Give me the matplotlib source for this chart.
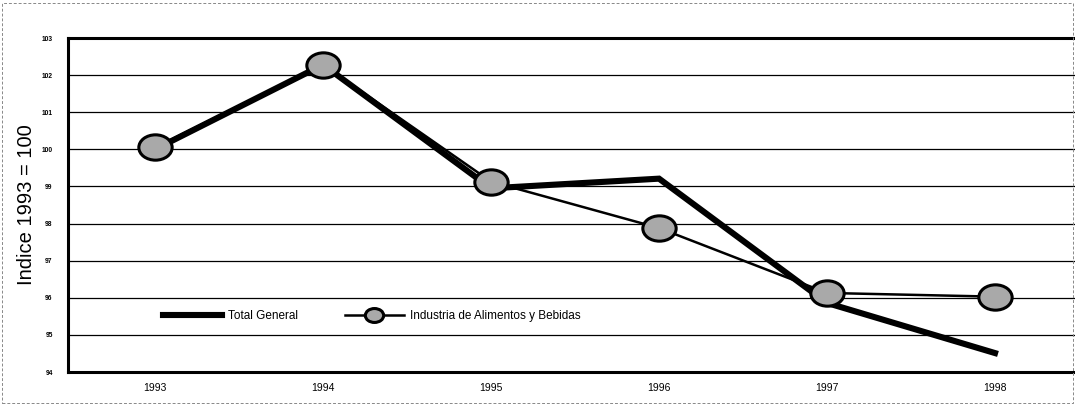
import matplotlib
matplotlib.use("Agg")
import matplotlib.pyplot as plt
from matplotlib.path import Path
from matplotlib.patches import Rectangle
import numpy as np

years = ["1993", "1994", "1995", "1996", "1997", "1998"]
total_general = [100.0, 102.28, 98.95, 99.21, 95.86, 94.51]
industria = [100.05, 102.28, 99.13, 97.88, 96.13, 96.03]
y_ticks = [94, 95, 96, 97, 98, 99, 100, 101, 102, 103]

plt.rcParams['font.family'] = ['Liberation Sans', 'DejaVu Sans']

fig = plt.figure(figsize=(10.75, 4.05), dpi=100)
ax = fig.add_axes([68/1075, 1 - 372/405, 1 - 68/1075, (372 - 38)/405])

# ellipse marker
circ = Path.unit_circle()
ell = Path(circ.vertices * np.array([1.0, 0.76]), circ.codes)

x = np.arange(len(years))
ax.plot(x, total_general, color='black', lw=4.4, solid_joinstyle='miter',
        label='Total General', zorder=3)
ax.plot(x, industria, color='black', lw=1.8, marker=ell, markersize=24,
        markerfacecolor='#a9a9a9', markeredgecolor='black', markeredgewidth=2.2,
        label='Industria de Alimentos y Bebidas', zorder=4)

ax.set_xlim(-0.518, 5.476)
ax.set_ylim(94, 103)
ax.set_yticks(y_ticks)
ax.set_yticklabels([str(v) for v in y_ticks], fontsize=4.8, fontweight='bold')
ax.set_xticks(x)
ax.set_xticklabels(years, fontsize=7.5)
ax.tick_params(axis='y', length=0, pad=11)
ax.tick_params(axis='x', length=0, pad=8)
ax.grid(axis='y', color='black', lw=0.9)
ax.set_axisbelow(True)

for s in ['left', 'top', 'bottom']:
    ax.spines[s].set_linewidth(2.2)
ax.spines['right'].set_visible(False)

ax.set_ylabel('Indice 1993 = 100', fontsize=14.5,
              family=['Liberation Sans', 'DejaVu Sans'],
              labelpad=4)

leg = ax.legend(loc='center left', bbox_to_anchor=(84/1007, (372 - 316)/334),
                ncol=2, frameon=False, fontsize=8.5, handlelength=5.0,
                columnspacing=4.0, handletextpad=0.5, markerscale=0.55)

fig.patches.append(Rectangle((0.002, 0.005), 0.996, 0.988, transform=fig.transFigure,
                             fill=False, edgecolor='#888888', lw=0.7,
                             linestyle=(0, (3, 2))))

fig.savefig('out.png', dpi=100)
